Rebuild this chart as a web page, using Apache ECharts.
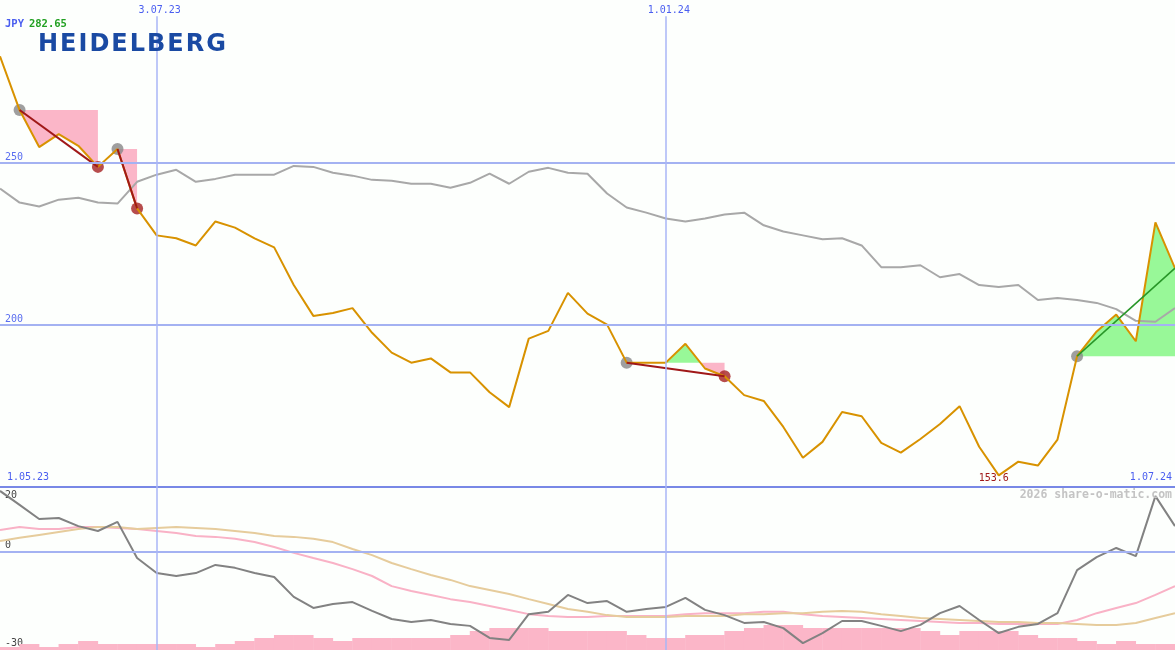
<!DOCTYPE html>
<html><head><meta charset="utf-8">
<script src="https://cdn.jsdelivr.net/npm/echarts@6/dist/echarts.min.js"></script>
<style>html,body{margin:0;padding:0;background:#fdfffd}#c{width:1175px;height:650px}</style>
</head><body><div id="c"></div>
<script>
// ---------- DATA ----------
const weeks = ['8.05.23','15.05.23','22.05.23','29.05.23','5.06.23','12.06.23','19.06.23','26.06.23','3.07.23','10.07.23','17.07.23','24.07.23','31.07.23','7.08.23','14.08.23','21.08.23','28.08.23','4.09.23','11.09.23','18.09.23','25.09.23','2.10.23','9.10.23','16.10.23','23.10.23','30.10.23','6.11.23','13.11.23','20.11.23','27.11.23','4.12.23','11.12.23','18.12.23','25.12.23','1.01.24','8.01.24','15.01.24','22.01.24','29.01.24','5.02.24','12.02.24','19.02.24','26.02.24','4.03.24','11.03.24','18.03.24','25.03.24','1.04.24','8.04.24','15.04.24','22.04.24','29.04.24','6.05.24','13.05.24','20.05.24','27.05.24','3.06.24','10.06.24','17.06.24','24.06.24','1.07.24'];
const topDateLabels = ['3.07.23', '1.01.24'];
const rangeStartLabel = '1.05.23';
const rangeEndLabel = '1.07.24';
const currency = 'JPY';
const priceTicks = [200, 250];
const lowerTicks = [20, 0, -30];

const price = [282.65,266.1,254.7,258.7,255.1,248.6,254.1,235.8,227.5,226.6,
  224.4,231.8,229.9,226.6,223.8,212.2,202.7,203.6,205.1,197.5,
  191.4,188.3,189.6,185.3,185.3,179.2,174.6,195.7,198.1,209.8,
  203.4,200.0,188.3,188.3,188.3,194.1,186.5,184.1,178.3,176.5,
  168.5,159.0,163.9,173.1,171.8,163.6,160.6,164.8,169.4,174.9,
  162.4,153.6,157.8,156.6,164.6,190.3,197.9,203.1,194.9,231.5,217.4];

const compare = [241.9,237.6,236.4,238.5,239.1,237.6,237.3,244.0,246.2,247.7,
  244.0,244.9,246.2,246.2,246.2,248.9,248.6,246.8,245.9,244.6,
  244.3,243.4,243.4,242.2,243.7,246.5,243.4,247.1,248.3,246.8,
  246.5,240.4,236.1,234.5,232.7,231.8,232.7,233.9,234.5,230.6,
  228.7,227.5,226.3,226.6,224.4,217.7,217.7,218.3,214.6,215.6,
  212.2,211.6,212.2,207.6,208.2,207.6,206.7,204.8,201.2,200.9,205.1];

const momentum = [18.8,14.5,10.2,10.5,8.0,6.5,9.3,-1.8,-6.4,-7.3,
  -6.4,-3.9,-4.8,-6.4,-7.6,-13.7,-17.1,-15.9,-15.3,-18.0,
  -20.5,-21.4,-20.8,-22.0,-22.6,-26.3,-26.9,-19.0,-18.3,-13.1,
  -15.6,-15.0,-18.3,-17.4,-16.8,-14.0,-17.7,-19.3,-21.7,-21.4,
  -23.3,-27.9,-24.8,-21.1,-21.1,-22.6,-24.2,-22.3,-18.7,-16.5,
  -20.8,-24.8,-22.9,-22.0,-18.7,-5.5,-1.5,1.3,-1.2,17.2,8.0];

const pinkAvg = [6.8,7.7,7.1,7.1,7.7,7.7,7.4,7.1,6.5,5.9,
  5.0,4.7,4.1,3.1,1.6,-0.2,-1.8,-3.3,-5.2,-7.3,
  -10.4,-11.9,-13.1,-14.4,-15.3,-16.5,-17.7,-19.0,-19.6,-19.9,
  -19.9,-19.6,-19.6,-19.6,-19.6,-19.0,-18.7,-18.7,-18.7,-18.3,
  -18.3,-19.0,-19.6,-19.9,-20.2,-20.5,-20.8,-21.1,-21.4,-21.7,
  -21.7,-22.0,-22.0,-22.0,-22.0,-20.8,-18.7,-17.1,-15.6,-13.1,-10.4];

const tanAvg = [3.4,4.4,5.3,6.2,7.1,7.7,7.7,7.1,7.4,7.7,
  7.4,7.1,6.5,5.9,5.0,4.7,4.1,3.1,1.0,-0.9,
  -3.3,-5.2,-7.0,-8.5,-10.4,-11.6,-12.8,-14.4,-15.9,-17.4,
  -18.3,-19.3,-19.9,-19.9,-19.9,-19.6,-19.6,-19.6,-19.0,-19.0,
  -18.7,-18.7,-18.3,-18.0,-18.3,-19.0,-19.6,-20.2,-20.5,-20.8,
  -21.1,-21.4,-21.4,-21.7,-21.7,-22.0,-22.3,-22.3,-21.7,-20.2,-18.7];

const volume = [3,6,3,6,9,6,6,6,6,6,
  3,6,9,12,15,15,12,9,12,12,
  12,12,12,15,19,22,22,22,19,19,
  19,19,15,12,12,15,15,19,22,25,
  25,22,22,22,22,22,22,19,15,19,
  19,19,15,12,12,9,6,9,6,6];

const tradeEntries = [1, 6, 32, 55];
const tradeExits = [5, 7, 37, null];

// ---------- BUILD ----------
const lastIdx = price.length - 1;
const xy = arr => arr.map((v, i) => [i, v]);

function buildFillPolys() {
  const polys = [];
  tradeEntries.forEach((a, k) => {
    const b = tradeExits[k] == null ? lastIdx : tradeExits[k];
    const L = price[a];
    const pts = [];
    for (let i = a; i <= b; i++) {
      pts.push([i, price[i]]);
      if (i < b) {
        const d0 = price[i] - L, d1 = price[i + 1] - L;
        if (d0 * d1 < 0) { const t = d0 / (d0 - d1); pts.push([i + t, L]); }
      }
    }
    let cur = null;
    for (let j = 0; j < pts.length - 1; j++) {
      const p = pts[j], q = pts[j + 1];
      const m = (p[1] + q[1]) / 2 - L;
      const s = m > 1e-9 ? 1 : (m < -1e-9 ? -1 : 0);
      if (s === 0) { if (cur) { polys.push(cur); cur = null; } continue; }
      if (!cur || cur.sign !== s) { if (cur) polys.push(cur); cur = { sign: s, level: L, pts: [p] }; }
      cur.pts.push(q);
    }
    if (cur) polys.push(cur);
  });
  return polys;
}
const fillPolys = buildFillPolys();

const mono = 'DejaVu Sans Mono';
const gridBlue = '#a4b2f2';
const vLine = { color: '#a8b6f6', width: 1.5, type: 'solid' };

const tradeLineSeries = tradeEntries.map((a, k) => {
  const open = tradeExits[k] == null;
  const b = open ? lastIdx : tradeExits[k];
  return {
    type: 'line', xAxisIndex: 0, yAxisIndex: 0, silent: true,
    data: [[a, price[a]], [b, price[b]]], symbol: 'none',
    lineStyle: { color: open ? '#289628' : '#a01818', width: open ? 1.5 : 2 }
  };
});

const topDateLines = topDateLabels.map(d => {
  const i = weeks.indexOf(d);
  return [
    { coord: [i, 295], lineStyle: vLine,
      label: { show: true, position: 'start', distance: 1, offset: [3, 0], formatter: () => weeks[i],
        color: '#4a5ef0', fontFamily: mono, fontSize: 10 } },
    { coord: [i, 150] }
  ];
});
const lowerDateLines = topDateLabels.map(d => {
  const i = weeks.indexOf(d);
  return [{ coord: [i, 20], lineStyle: vLine }, { coord: [i, -30] }];
});

const logoText = 'HEIDELBERG'.split('').map(c => '{h|' + c + '}').join('');

const option = {
  backgroundColor: '#fdfffd',
  animation: false,
  grid: [
    { left: 0, right: 0, top: 0, height: 487 },
    { left: 0, right: 0, top: 487, height: 163 }
  ],
  title: [
    { left: 5, top: 15, padding: 0, text: '{a|' + currency + '} {b|' + Math.max(...price).toFixed(2) + '}',
      textStyle: { rich: { a: { color: '#4a5ef0', fontFamily: mono, fontSize: 10.5 }, b: { color: '#22a022', fontFamily: mono, fontSize: 10.5 } } } },
    { left: 37, top: 33, padding: 0, text: logoText,
      textStyle: { rich: { h: { color: '#1a4aa3', fontFamily: 'DejaVu Sans', fontWeight: 'bold', fontSize: 24, padding: [0, 1, 0, 1] } } } },
    { left: 7, top: 472, padding: 0, text: rangeStartLabel, textStyle: { color: '#4a5ef0', fontFamily: mono, fontSize: 10, fontWeight: 'normal' } },
    { right: 3, top: 472, padding: 0, text: rangeEndLabel, textStyle: { color: '#4a5ef0', fontFamily: mono, fontSize: 10, fontWeight: 'normal' } },
    { right: 3, top: 489, padding: 0, text: '2026 share-o-matic.com', textStyle: { color: '#c4c4c4', fontFamily: mono, fontSize: 11.5, fontWeight: 'bold' } }
  ],
  xAxis: [
    { gridIndex: 0, type: 'value', min: 0, max: lastIdx, show: false },
    { gridIndex: 1, type: 'value', min: 0, max: lastIdx, show: false }
  ],
  yAxis: [
    { gridIndex: 0, type: 'value', min: 150, max: 300, interval: 50,
      axisLine: { show: false }, axisTick: { show: false }, splitLine: { show: false },
      axisLabel: { inside: true, margin: 5, verticalAlign: 'bottom', color: '#5a6ef0', fontFamily: mono, fontSize: 10,
        formatter: v => priceTicks.includes(v) ? String(v) : '' } },
    { gridIndex: 1, type: 'value', min: -30, max: 20, interval: 10, position: 'left',
      axisLine: { show: false }, axisTick: { show: false }, splitLine: { show: false },
      axisLabel: { inside: true, margin: 5, verticalAlign: 'bottom', showMinLabel: true, color: '#444', fontFamily: mono, fontSize: 10,
        padding: [0, 0, 2, 0],
        formatter: v => (lowerTicks.includes(v) && v !== 20) ? String(v) : '' } },
    { gridIndex: 1, type: 'value', min: -30, max: 20, interval: 10, position: 'left',
      axisLine: { show: false }, axisTick: { show: false }, splitLine: { show: false },
      axisLabel: { inside: true, margin: 5, verticalAlign: 'top', showMaxLabel: true, color: '#444', fontFamily: mono, fontSize: 10,
        padding: [3, 0, 0, 0],
        formatter: v => v === 20 ? '20' : '' } },
    { gridIndex: 1, type: 'value', min: 0, max: 163, show: false }
  ],
  series: [
    // main grid lines
    { type: 'line', xAxisIndex: 0, yAxisIndex: 0, data: [], silent: true,
      markLine: { silent: true, symbol: ['none', 'none'], label: { show: false }, animation: false,
        data: [
          { yAxis: 250, lineStyle: { color: gridBlue, width: 2, type: 'solid' } },
          { yAxis: 200, lineStyle: { color: gridBlue, width: 2, type: 'solid' } },
          { yAxis: 150, lineStyle: { color: '#7888e6', width: 2, type: 'solid' } },
          ...topDateLines
        ] } },
    // trade fills
    { type: 'custom', xAxisIndex: 0, yAxisIndex: 0, silent: true, clip: true,
      data: fillPolys.map((p, k) => [p.pts[0][0], p.level, k]),
      dimensions: ['x', 'y', 'k'], encode: { x: 0, y: 1 },
      renderItem: (params, api) => {
        const poly = fillPolys[api.value(2)];
        const L = poly.level;
        const pts = [[poly.pts[0][0], L]].concat(poly.pts, [[poly.pts[poly.pts.length - 1][0], L]]);
        return { type: 'polygon', shape: { points: pts.map(p => api.coord(p)) },
          style: { fill: poly.sign > 0 ? '#98f898' : '#fbb6c8' } };
      } },
    // comparison line
    { type: 'line', xAxisIndex: 0, yAxisIndex: 0, data: xy(compare), symbol: 'none', silent: true,
      lineStyle: { color: '#a8a8a8', width: 2 } },
    // price
    { type: 'line', xAxisIndex: 0, yAxisIndex: 0, data: xy(price), symbol: 'none', silent: true,
      lineStyle: { color: '#d89200', width: 2 },
      markPoint: { symbol: 'circle', symbolSize: 0, silent: true,
        data: [{ type: 'min', valueDim: 'y' }],
        label: { show: true, position: 'inside', offset: [-5, 3], formatter: p => String(p.value),
          color: '#a01818', fontFamily: mono, fontSize: 10 } } },
    ...tradeLineSeries,
    { type: 'scatter', xAxisIndex: 0, yAxisIndex: 0, silent: true, symbolSize: 12,
      data: tradeEntries.map(i => [i, price[i]]), itemStyle: { color: '#878787' } },
    { type: 'scatter', xAxisIndex: 0, yAxisIndex: 0, silent: true, symbolSize: 12,
      data: tradeExits.filter(i => i != null).map(i => [i, price[i]]), itemStyle: { color: '#a52020' } },

    // lower grid lines
    { type: 'line', xAxisIndex: 1, yAxisIndex: 1, data: [], silent: true,
      markLine: { silent: true, symbol: ['none', 'none'], label: { show: false }, animation: false,
        data: [
          { yAxis: 0, lineStyle: { color: gridBlue, width: 2, type: 'solid' } },
          ...lowerDateLines
        ] } },
    { type: 'bar', xAxisIndex: 1, yAxisIndex: 3, silent: true, barWidth: 20,
      data: volume.map((v, i) => [i + 0.5, v]), itemStyle: { color: '#fbb6c8' } },
    { type: 'line', xAxisIndex: 1, yAxisIndex: 1, data: xy(pinkAvg), symbol: 'none', silent: true,
      lineStyle: { color: '#f9b2c6', width: 2 } },
    { type: 'line', xAxisIndex: 1, yAxisIndex: 1, data: xy(tanAvg), symbol: 'none', silent: true,
      lineStyle: { color: '#e6cc9c', width: 2 } },
    { type: 'line', xAxisIndex: 1, yAxisIndex: 1, data: xy(momentum), symbol: 'none', silent: true,
      lineStyle: { color: '#828282', width: 2 } }
  ]
};

const chart = echarts.init(document.getElementById('c'), null, { renderer: 'canvas' });
chart.setOption(option);
</script>
</body></html>
